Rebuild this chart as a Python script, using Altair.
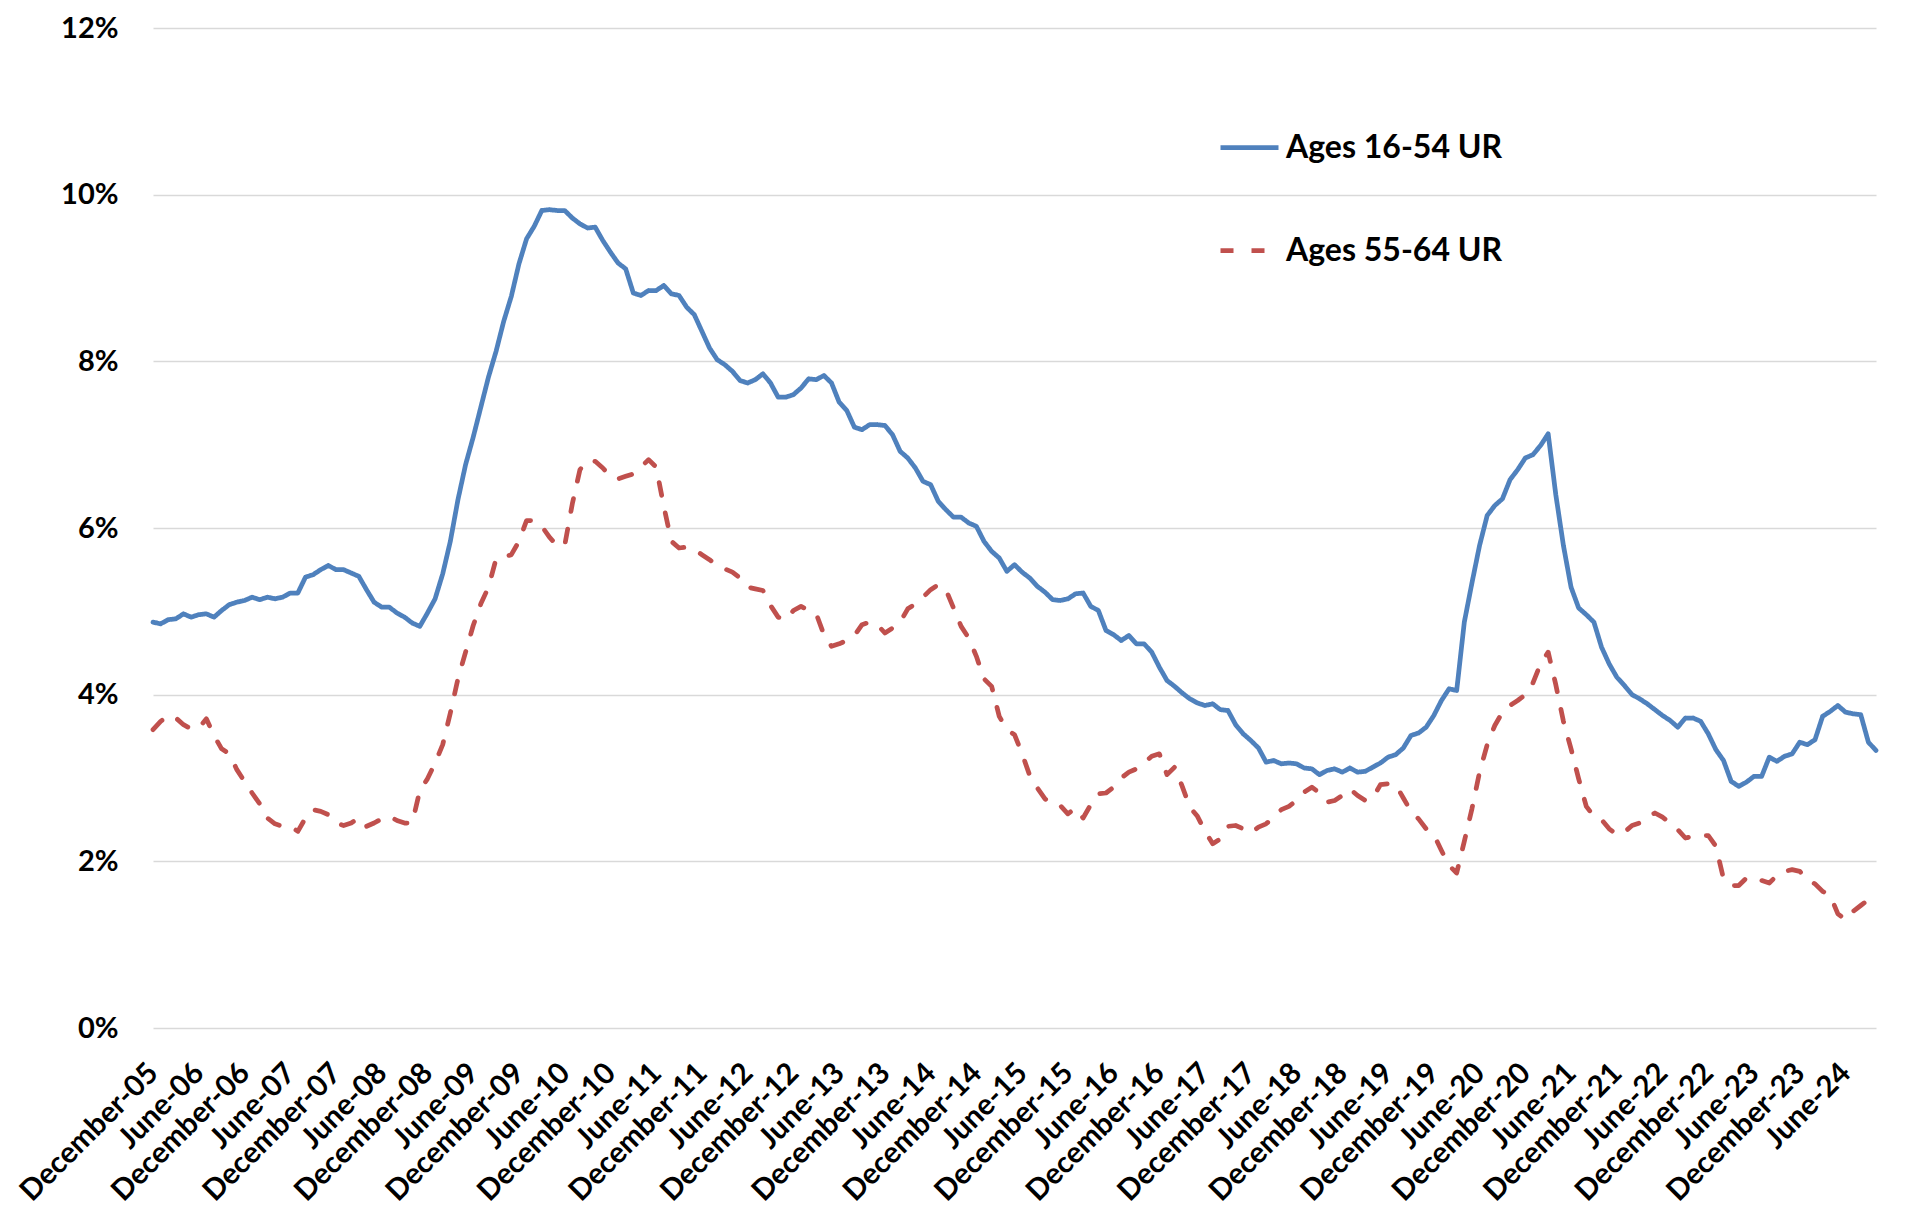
import altair as alt
import pandas as pd

month_names = ["January", "February", "March", "April", "May", "June", "July",
               "August", "September", "October", "November", "December"]
months = []
yr, mo = 2005, 12
for _ in range(227):
    months.append(f"{month_names[mo - 1]}-{yr % 100:02d}")
    mo += 1
    if mo > 12:
        mo = 1
        yr += 1
tick_labels = months[::6]

series_names = ["Ages 16-54 UR", "Ages 55-64 UR"]

ages_16_54 = [
    4.87, 4.85, 4.90, 4.91, 4.97, 4.93, 4.96, 4.97, 4.93, 5.01,
    5.08, 5.11, 5.13, 5.17, 5.14, 5.17, 5.15, 5.17, 5.22, 5.22,
    5.41, 5.44, 5.50, 5.55, 5.50, 5.50, 5.46, 5.42, 5.26, 5.11,
    5.05, 5.05, 4.98, 4.93, 4.86, 4.82, 4.98, 5.15,
    5.45, 5.84, 6.34, 6.76, 7.09, 7.45, 7.81, 8.12, 8.48, 8.78,
    9.17, 9.47, 9.62, 9.81, 9.82, 9.81, 9.81, 9.72, 9.65, 9.60,
    9.61, 9.45, 9.31, 9.18, 9.11, 8.82, 8.79, 8.85, 8.85, 8.91,
    8.81, 8.79, 8.65, 8.56, 8.36, 8.16, 8.02, 7.96,
    7.88, 7.77, 7.74, 7.78, 7.85, 7.74, 7.57, 7.57, 7.60, 7.68,
    7.79, 7.78, 7.83, 7.74, 7.51, 7.41, 7.21, 7.18, 7.24, 7.24,
    7.23, 7.12, 6.92, 6.84, 6.72, 6.56, 6.52, 6.32, 6.22, 6.13,
    6.13, 6.06, 6.02, 5.84, 5.72, 5.64, 5.48, 5.56,
    5.47, 5.40, 5.30, 5.23, 5.14, 5.13, 5.15, 5.21, 5.22, 5.06,
    5.01, 4.77, 4.72, 4.65, 4.71, 4.61, 4.61, 4.51, 4.33, 4.17,
    4.10, 4.02, 3.95, 3.90, 3.87, 3.89, 3.82, 3.81, 3.64, 3.53,
    3.45, 3.36, 3.19, 3.21, 3.17, 3.18, 3.17, 3.12,
    3.11, 3.04, 3.09, 3.11, 3.07, 3.12, 3.07, 3.08, 3.13, 3.18,
    3.25, 3.28, 3.36, 3.51, 3.54, 3.61, 3.75, 3.93, 4.07, 4.05,
    4.87, 5.34, 5.79, 6.15, 6.27, 6.35, 6.58, 6.70, 6.84, 6.88,
    6.99, 7.13, 6.40, 5.79, 5.29, 5.04, 4.96, 4.87,
    4.57, 4.37, 4.21, 4.11, 4.00, 3.95, 3.89, 3.82, 3.75, 3.69,
    3.61, 3.72, 3.72, 3.68, 3.53, 3.34, 3.21, 2.96, 2.90, 2.95,
    3.02, 3.02, 3.25, 3.20, 3.26, 3.29, 3.43, 3.40, 3.46, 3.74,
    3.80, 3.87, 3.79, 3.77, 3.76, 3.43, 3.33,
]

ages_55_64 = [
    3.58, 3.68, 3.75, 3.72, 3.64, 3.59, 3.60, 3.71, 3.51, 3.35,
    3.29, 3.10, 2.96, 2.82, 2.69, 2.52, 2.45, 2.42, 2.42, 2.36,
    2.52, 2.62, 2.60, 2.56, 2.46, 2.43, 2.46, 2.52, 2.42, 2.46,
    2.51, 2.54, 2.49, 2.46, 2.46, 2.85, 2.99, 3.18, 3.40, 3.78,
    4.19, 4.51, 4.83, 5.09, 5.29, 5.63, 5.65, 5.68, 5.84, 6.09,
    6.09, 6.02, 5.89, 5.79, 5.79, 6.29, 6.70, 6.81, 6.80, 6.72,
    6.62, 6.59, 6.62, 6.65, 6.73, 6.82, 6.73, 6.26, 5.84, 5.76,
    5.77, 5.74, 5.68, 5.62, 5.55, 5.51, 5.47, 5.40, 5.29, 5.27,
    5.25, 5.07, 4.93, 4.90, 5.01, 5.06, 5.01, 4.97, 4.72, 4.58,
    4.61, 4.65, 4.71, 4.84, 4.87, 4.84, 4.74, 4.80, 4.87, 5.03,
    5.09, 5.17, 5.26, 5.32, 5.26, 5.04, 4.82, 4.68, 4.46, 4.19,
    4.10, 3.74, 3.58, 3.52, 3.29, 3.03, 2.88, 2.75, 2.68, 2.67,
    2.57, 2.64, 2.52, 2.68, 2.81, 2.82, 2.89, 3.00, 3.07, 3.11,
    3.18, 3.26, 3.29, 3.04, 3.13, 2.90, 2.65, 2.54, 2.36, 2.21,
    2.27, 2.42, 2.43, 2.39, 2.34, 2.41, 2.45, 2.53, 2.62, 2.66,
    2.73, 2.83, 2.89, 2.82, 2.71, 2.73, 2.79, 2.87, 2.79, 2.73,
    2.76, 2.92, 2.93, 2.92, 2.76, 2.60, 2.51, 2.39, 2.32, 2.13,
    1.95, 1.86, 2.24, 2.63, 3.07, 3.40, 3.63, 3.79, 3.87, 3.93,
    4.00, 4.14, 4.37, 4.51, 4.12, 3.68, 3.35, 2.99, 2.66, 2.54,
    2.50, 2.39, 2.32, 2.35, 2.43, 2.46, 2.53, 2.58, 2.53, 2.46,
    2.38, 2.28, 2.30, 2.31, 2.31, 2.18, 1.79, 1.71, 1.71, 1.80,
    1.80, 1.77, 1.74, 1.83, 1.88, 1.90, 1.88, 1.77, 1.73, 1.64,
    1.59, 1.37, 1.30, 1.40, 1.47, 1.54, 1.60,
]

y_ticks = [0, 2, 4, 6, 8, 10, 12]

rows = []
for name, vals in zip(series_names, [ages_16_54, ages_55_64]):
    for i, (m, v) in enumerate(zip(months, vals)):
        rows.append({"month": m, "idx": i, "series": name, "value": v})
df = pd.DataFrame(rows)

FONT = "Lato"
LW = 4.75

legend = alt.Legend(
    title=None, orient="none", legendX=1065, legendY=88,
    symbolType="stroke", symbolSize=3364, symbolStrokeWidth=LW,
    labelFont=FONT, labelFontSize=32, labelFontWeight="bold",
    labelColor="black", labelOffset=5, rowPadding=55, padding=0,
    labelLimit=400,
)

chart = alt.Chart(df).mark_line(
    strokeWidth=LW, strokeCap="round", strokeJoin="round"
).encode(
    x=alt.X(
        "month:O", sort=months,
        scale=alt.Scale(type="point", padding=0),
        axis=alt.Axis(
            values=tick_labels, labelAngle=-45, labelAlign="right",
            labelBaseline="middle", labelPadding=40, ticks=False,
            domain=False, grid=False, title=None, labelFont=FONT,
            labelFontSize=29.5, labelFontWeight="bold", labelColor="black",
            labelOverlap=False, labelBound=False, labelLimit=400,
        ),
    ),
    y=alt.Y(
        "value:Q", scale=alt.Scale(domain=[0, 12], nice=False),
        axis=alt.Axis(
            values=y_ticks, labelExpr="datum.value + '%'", grid=True,
            gridColor="#D9D9D9", gridWidth=1.3, ticks=False, domain=False,
            title=None, labelPadding=35, labelFont=FONT, labelFontSize=29,
            labelFontWeight="bold", labelColor="black",
        ),
    ),
    color=alt.Color(
        "series:N",
        scale=alt.Scale(domain=series_names, range=["#4F81BD", "#C0504D"]),
        legend=legend,
    ),
    strokeDash=alt.StrokeDash(
        "series:N",
        scale=alt.Scale(domain=series_names, range=[[1, 0], [13, 18]]),
        legend=legend,
    ),
    order=alt.Order("idx:Q"),
).properties(
    width=1723,
    height=1000,
    autosize=alt.AutoSizeParams(type="none"),
    padding={"left": 145, "top": 20, "right": 16, "bottom": 190},
).configure_view(strokeWidth=0)

chart.save("out.html", embed_options={"renderer": "svg", "actions": False})
